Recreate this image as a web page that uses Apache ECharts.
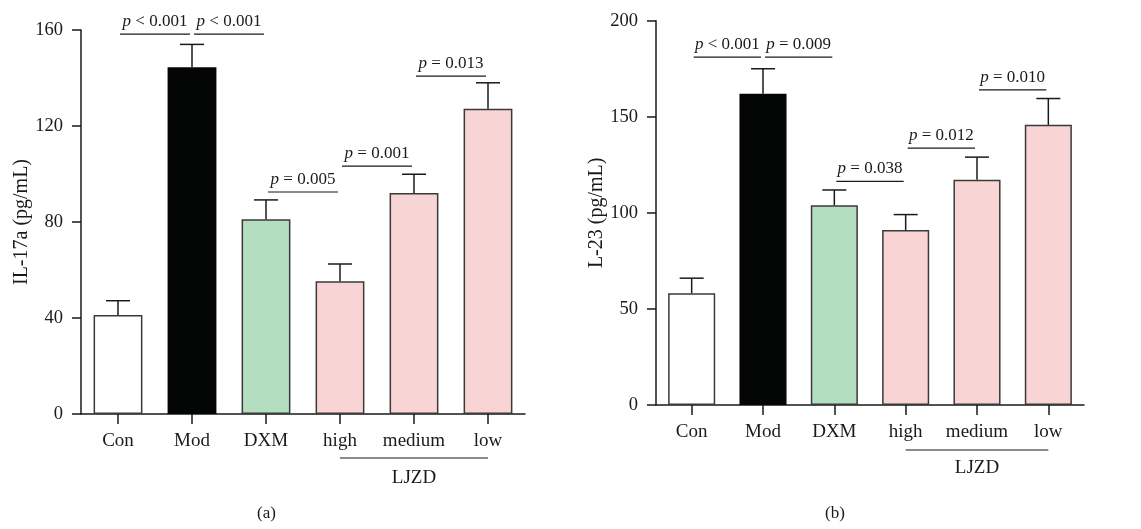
<!DOCTYPE html>
<html>
<head>
<meta charset="utf-8">
<script src="https://cdn.jsdelivr.net/npm/echarts@6/dist/echarts.min.js"></script>
<style>
  html, body { margin: 0; padding: 0; background: #fff; }
  #chart { width: 1141px; height: 529px; }
</style>
</head>
<body>
<div id="chart"></div>
<script>
const categories = ['Con', 'Mod', 'DXM', 'high', 'medium', 'low'];
const il17Mean = [41.3, 144.5, 81.1, 55.3, 92.1, 127.2];
const il17Upper = [47.2, 154, 89.2, 62.5, 99.9, 138];
const il23Mean = [58.2, 162, 103.9, 91.1, 117.2, 145.8];
const il23Upper = [66, 175, 111.9, 99.1, 129, 159.5];
// [from category, to category, height]
const il17Sig = [[0, 1, 158.3], [1, 2, 158.3], [2, 3, 92.5], [3, 4, 103.3], [4, 5, 140.8]];
const il17SigText = ['< 0.001', '< 0.001', '= 0.005', '= 0.001', '= 0.013'];
const il23Sig = [[0, 1, 181], [1, 2, 181], [2, 3, 116.4], [3, 4, 133.7], [4, 5, 164]];
const il23SigText = ['< 0.001', '= 0.009', '= 0.038', '= 0.012', '= 0.010'];
const il17Ticks = [0, 160, 40];
const il23Ticks = [0, 200, 50];
const barColors = ['#ffffff', '#040605', '#b4dec0', '#f9d4d5', '#f9d4d5', '#f9d4d5'];

const FONT = '"Liberation Serif", "DejaVu Serif", serif';
const INK = '#1a1a1a';

function xAxisFor(gi) {
  return {
    type: 'category', gridIndex: gi, data: categories,
    axisLine: { show: true, lineStyle: { color: INK, width: 1.5 } },
    axisTick: { show: true, alignWithLabel: true, interval: 0, length: 10, lineStyle: { color: INK, width: 1.5 } },
    axisLabel: { interval: 0, color: INK, fontFamily: FONT, fontSize: 19, margin: 18 }
  };
}
function yAxisFor(gi, ticks, name, gap) {
  return {
    type: 'value', gridIndex: gi, min: ticks[0], max: ticks[1], interval: ticks[2],
    name: name, nameLocation: 'middle', nameGap: gap,
    nameTextStyle: { color: INK, fontFamily: FONT, fontSize: 20 },
    axisLine: { show: true, lineStyle: { color: INK, width: 1.5 } },
    axisTick: { show: true, length: 9, lineStyle: { color: INK, width: 1.5 } },
    axisLabel: { color: INK, fontFamily: FONT, fontSize: 18.5, margin: 18 },
    splitLine: { show: false }
  };
}
function barSeries(gi, vals) {
  return {
    type: 'bar', xAxisIndex: gi, yAxisIndex: gi, barWidth: '66%',
    data: vals.map((v, i) => ({
      value: v,
      itemStyle: { color: barColors[i], borderColor: i === 1 ? '#040605' : '#3a3a3a', borderWidth: 1.5 }
    })),
    z: 3
  };
}
function errorSeries(gi, mean, upper) {
  return {
    type: 'custom', xAxisIndex: gi, yAxisIndex: gi, z: 2,
    data: categories.map((c, i) => [i, mean[i], upper[i]]),
    encode: { x: 0, y: [1, 2] },
    renderItem: function (params, api) {
      const top = api.coord([api.value(0), api.value(2)]);
      const base = api.coord([api.value(0), api.value(1)]);
      const st = { stroke: INK, lineWidth: 1.5 };
      return {
        type: 'group', children: [
          { type: 'line', shape: { x1: top[0], y1: top[1], x2: base[0], y2: base[1] }, style: st },
          { type: 'line', shape: { x1: top[0] - 12, y1: top[1], x2: top[0] + 12, y2: top[1] }, style: st }
        ]
      };
    }
  };
}
function sigSeries(gi, sig, texts) {
  return {
    type: 'custom', xAxisIndex: gi, yAxisIndex: gi, z: 4,
    data: sig,
    encode: { x: [0, 1], y: 2 },
    renderItem: function (params, api) {
      const p1 = api.coord([api.value(0), api.value(2)]);
      const p2 = api.coord([api.value(1), api.value(2)]);
      return {
        type: 'group', children: [
          { type: 'line', shape: { x1: p1[0] + 2, y1: p1[1], x2: p2[0] - 2, y2: p2[1] },
            style: { stroke: INK, lineWidth: 1.2 } },
          { type: 'text', x: (p1[0] + p2[0]) / 2, y: p1[1] - 4,
            style: {
              text: '{i|p} ' + texts[params.dataIndex], align: 'center', verticalAlign: 'bottom',
              fill: INK, fontFamily: FONT, fontSize: 17,
              rich: { i: { fontStyle: 'italic', fontFamily: FONT, fontSize: 17, fill: INK } }
            } }
        ]
      };
    }
  };
}
function groupSeries(gi, drop, textGap) {
  return {
    type: 'custom', xAxisIndex: gi, yAxisIndex: gi, z: 4, clip: false,
    data: [[3, 5]],
    encode: { x: [0, 1] },
    renderItem: function (params, api) {
      const p1 = api.coord([api.value(0), 0]);
      const p2 = api.coord([api.value(1), 0]);
      const y = p1[1] + drop;
      return {
        type: 'group', children: [
          { type: 'line', shape: { x1: p1[0], y1: y, x2: p2[0], y2: y }, style: { stroke: INK, lineWidth: 1.2 } },
          { type: 'text', x: (p1[0] + p2[0]) / 2, y: y + textGap,
            style: { text: 'LJZD', align: 'center', verticalAlign: 'middle', fill: INK, fontFamily: FONT, fontSize: 19 } }
        ]
      };
    }
  };
}

const chart = echarts.init(document.getElementById('chart'));
chart.setOption({
  animation: false,
  backgroundColor: '#fff',
  grid: [
    { left: 81, top: 30, width: 444, height: 384 },
    { left: 656, top: 20.7, width: 428, height: 384.3 }
  ],
  xAxis: [xAxisFor(0), xAxisFor(1)],
  yAxis: [yAxisFor(0, il17Ticks, 'IL-17a (pg/mL)', 49), yAxisFor(1, il23Ticks, 'L-23 (pg/mL)', 46)],
  graphic: [
    { type: 'text', left: 257, top: 505, style: { text: '(a)', fill: INK, fontFamily: FONT, fontSize: 17 } },
    { type: 'text', left: 825, top: 505, style: { text: '(b)', fill: INK, fontFamily: FONT, fontSize: 17 } }
  ],
  series: [
    errorSeries(0, il17Mean, il17Upper),
    barSeries(0, il17Mean),
    sigSeries(0, il17Sig, il17SigText),
    groupSeries(0, 44, 20),
    errorSeries(1, il23Mean, il23Upper),
    barSeries(1, il23Mean),
    sigSeries(1, il23Sig, il23SigText),
    groupSeries(1, 45, 18)
  ]
});
</script>
</body>
</html>
